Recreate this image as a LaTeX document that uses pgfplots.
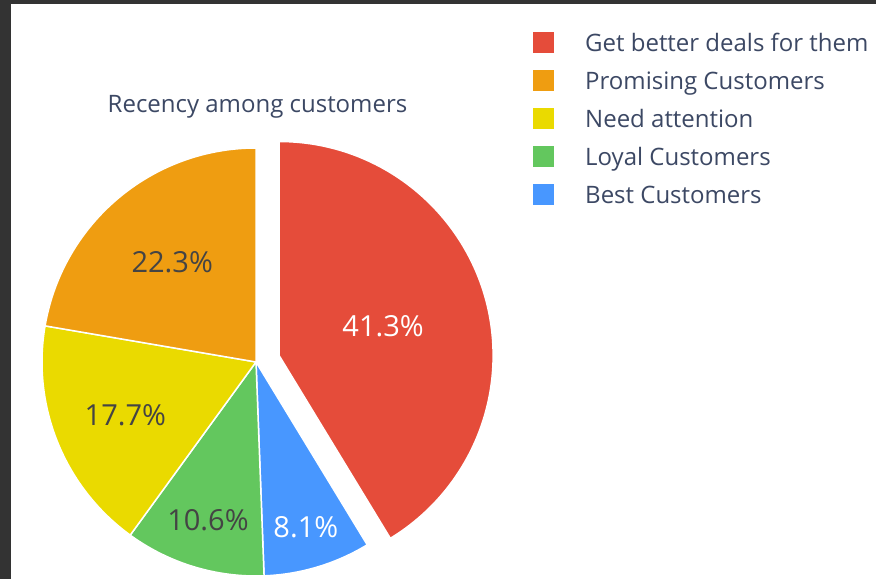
\documentclass[border=0pt]{standalone}
\usepackage{fontspec}
\setmainfont{Open Sans}
\usepackage{pgfplots}
\usepackage{pgfplotstable}
\pgfplotsset{compat=1.18}

\definecolor{cred}{RGB}{229,76,58}
\definecolor{corange}{RGB}{239,157,17}
\definecolor{cyellow}{RGB}{234,218,0}
\definecolor{cgreen}{RGB}{99,199,94}
\definecolor{cblue}{RGB}{72,151,255}
\definecolor{ctext}{HTML}{3C4864}
\definecolor{cdark}{HTML}{444444}
\definecolor{cborder}{RGB}{51,51,51}

% label, percent, fill colour, text colour, pull (px), label radius (px)
\pgfplotstableread[col sep=comma]{
label,value,col,txt,pull,lr
Get better deals for them,41.3,cred,white,24,108
Best Customers,8.1,cblue,white,0,173
Loyal Customers,10.6,cgreen,cdark,0,165
Need attention,17.7,cyellow,cdark,0,141
Promising Customers,22.3,corange,cdark,0,130
}\piedata

% legend order
\pgfplotstableread[col sep=comma]{
label,col
Get better deals for them,cred
Promising Customers,corange
Need attention,cyellow
Loyal Customers,cgreen
Best Customers,cblue
}\legdata

\def\cum{0}
\pgfplotsforeachungrouped \i in {0,...,4}{%
  \pgfplotstablegetelem{\i}{value}\of\piedata \let\v\pgfplotsretval
  \pgfmathsetmacro\sa{90-3.6*\cum}%
  \pgfmathsetmacro\cumn{\cum+\v}%
  \pgfmathsetmacro\ea{90-3.6*\cumn}%
  \pgfmathsetmacro\ma{(\sa+\ea)/2}%
  \xdef\cum{\cumn}%
  \expandafter\xdef\csname sa\i\endcsname{\sa}%
  \expandafter\xdef\csname ea\i\endcsname{\ea}%
  \expandafter\xdef\csname ma\i\endcsname{\ma}%
  \expandafter\xdef\csname val\i\endcsname{\v}%
  \pgfplotstablegetelem{\i}{col}\of\piedata
  \expandafter\xdef\csname col\i\endcsname{\pgfplotsretval}%
  \pgfplotstablegetelem{\i}{txt}\of\piedata
  \expandafter\xdef\csname txt\i\endcsname{\pgfplotsretval}%
  \pgfplotstablegetelem{\i}{pull}\of\piedata
  \expandafter\xdef\csname pull\i\endcsname{\pgfplotsretval}%
  \pgfplotstablegetelem{\i}{lr}\of\piedata
  \expandafter\xdef\csname lr\i\endcsname{\pgfplotsretval}%
  \pgfplotstablegetelem{\i}{label}\of\legdata
  \expandafter\xdef\csname leg\i\endcsname{\pgfplotsretval}%
  \pgfplotstablegetelem{\i}{col}\of\legdata
  \expandafter\xdef\csname legcol\i\endcsname{\pgfplotsretval}%
}

\def\CX{256}
\def\CY{217}
\def\R{214}

\begin{document}
\begin{tikzpicture}
\begin{axis}[
  x=1bp, y=1bp, xmin=0, xmax=876, ymin=0, ymax=579,
  scale only axis, hide axis, clip=false, disabledatascaling,
]
% background and screenshot frame
\fill[white] (axis cs:0,0) rectangle (axis cs:876,579);
\fill[cborder] (axis cs:0,575) rectangle (axis cs:876,579);
\fill[cborder] (axis cs:0,0) rectangle (axis cs:11,579);

% wedges
\pgfplotsinvokeforeach{0,...,4}{
  \fill[fill=\csname col#1\endcsname, draw=white, line width=1.5bp, line join=round]
    (axis cs:{\CX+\csname pull#1\endcsname*cos(\csname ma#1\endcsname)},
             {\CY+\csname pull#1\endcsname*sin(\csname ma#1\endcsname)})
    -- (axis cs:{\CX+\csname pull#1\endcsname*cos(\csname ma#1\endcsname)+\R*cos(\csname sa#1\endcsname)},
                {\CY+\csname pull#1\endcsname*sin(\csname ma#1\endcsname)+\R*sin(\csname sa#1\endcsname)})
    arc[start angle=\csname sa#1\endcsname, end angle=\csname ea#1\endcsname, radius=\R bp]
    -- cycle;
}
% percentage labels
\pgfplotsinvokeforeach{0,...,4}{
  \node[text=\csname txt#1\endcsname, anchor=center, inner sep=0pt,
        font=\fontsize{29bp}{32bp}\selectfont]
    at (axis cs:{\CX+(\csname pull#1\endcsname+\csname lr#1\endcsname)*cos(\csname ma#1\endcsname)},
                {\CY+(\csname pull#1\endcsname+\csname lr#1\endcsname)*sin(\csname ma#1\endcsname)})
    {\csname val#1\endcsname\%};
}
% title
\node[text=ctext, anchor=base, inner sep=0pt, font=\fontsize{24bp}{28bp}\selectfont]
  at (axis cs:257.5,466) {Recency among customers};
% legend
\pgfplotsinvokeforeach{0,...,4}{
  \fill[\csname legcol#1\endcsname] (axis cs:533,{579-32-38*#1}) rectangle (axis cs:554,{579-53-38*#1});
  \node[text=ctext, anchor=base west, inner sep=0pt, font=\fontsize{24bp}{28bp}\selectfont]
    at (axis cs:585,{579-52-38*#1}) {\csname leg#1\endcsname};
}
\end{axis}
\end{tikzpicture}
\end{document}
